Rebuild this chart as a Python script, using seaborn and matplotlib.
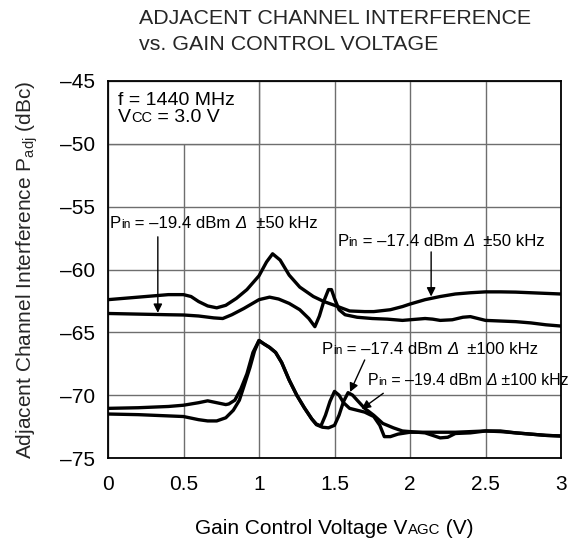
import matplotlib
matplotlib.use("Agg")
import matplotlib.pyplot as plt
import seaborn as sns
import pandas as pd
from matplotlib.patches import Rectangle
from matplotlib.offsetbox import TextArea, HPacker, VPacker, AnnotationBbox

# ---------------- data ----------------
x_u50 = [0, 0.1, 0.2, 0.3, 0.4, 0.5, 0.55, 0.6, 0.66, 0.72, 0.78, 0.85, 0.92, 1.0, 1.05,
         1.09, 1.14, 1.2, 1.27, 1.36, 1.43, 1.5, 1.6, 1.7, 1.76, 1.87, 1.95, 2.0, 2.1, 2.2,
         2.3, 2.4, 2.5, 2.6, 2.7, 2.8, 2.9, 3.0]
y_u50 = [-62.4, -62.3, -62.2, -62.1, -62.0, -62.0, -62.15, -62.55, -62.9, -63.05, -62.85, -62.3,
         -61.6, -60.5, -59.4, -58.75, -59.25, -60.45, -61.4, -62.15, -62.55, -62.85, -63.3,
         -63.35, -63.35, -63.2, -62.95, -62.75, -62.4, -62.15, -61.95, -61.85, -61.78, -61.78,
         -61.8, -61.85, -61.9, -61.95]

x_l50 = [0, 0.2, 0.4, 0.5, 0.6, 0.7, 0.76, 0.82, 0.9, 0.95, 1.0, 1.07, 1.13, 1.2, 1.27, 1.33,
         1.37, 1.4, 1.43, 1.46, 1.48, 1.5, 1.53, 1.57, 1.65, 1.75, 1.85, 1.95, 2.0, 2.05, 2.1,
         2.15, 2.2, 2.28, 2.35, 2.4, 2.45, 2.5, 2.6, 2.7, 2.8, 2.9, 3.0]
y_l50 = [-63.5, -63.55, -63.6, -63.62, -63.7, -63.85, -63.9, -63.6, -63.1, -62.75, -62.4, -62.2,
         -62.35, -62.7, -63.2, -63.9, -64.55, -63.7, -62.5, -61.6, -61.6, -62.3, -63.2, -63.6,
         -63.8, -63.9, -63.95, -64.05, -64.0, -63.95, -63.9, -63.95, -64.05, -64.0, -63.8,
         -63.75, -63.9, -64.05, -64.1, -64.15, -64.25, -64.4, -64.5]

x_174_100 = [0, 0.2, 0.4, 0.5, 0.6, 0.66, 0.72, 0.78, 0.8, 0.84, 0.88, 0.92, 0.96, 1.0, 1.03,
             1.07, 1.11, 1.15, 1.2, 1.25, 1.3, 1.35, 1.38, 1.42, 1.46, 1.5, 1.53, 1.56, 1.59,
             1.62, 1.65, 1.7, 1.76, 1.82, 1.89, 1.95, 2.0, 2.1, 2.2, 2.25, 2.3, 2.4, 2.5, 2.6,
             2.7, 2.8, 2.9, 3.0]
y_174_100 = [-71.05, -71.0, -70.9, -70.8, -70.6, -70.45, -70.6, -70.75, -70.7, -70.4, -69.5,
             -68.3, -66.6, -65.65, -65.9, -66.2, -66.6, -67.4, -68.8, -70.0, -71.0, -71.9,
             -72.35, -72.55, -72.6, -72.4, -71.6, -70.5, -69.8, -70.0, -70.4, -71.05, -71.6,
             -72.25, -72.6, -72.85, -72.9, -73.0, -73.4, -73.35, -73.05, -73.0, -72.85, -72.85,
             -73.0, -73.1, -73.2, -73.25]

x_194_100 = [0, 0.2, 0.4, 0.5, 0.6, 0.66, 0.72, 0.78, 0.83, 0.87, 0.9, 0.94, 0.97, 1.0, 1.03,
             1.07, 1.11, 1.15, 1.2, 1.25, 1.3, 1.35, 1.38, 1.41, 1.44, 1.47, 1.5, 1.53, 1.56,
             1.6, 1.65, 1.7, 1.76, 1.8, 1.83, 1.87, 1.92, 2.0, 2.1, 2.2, 2.3, 2.4, 2.5, 2.6,
             2.7, 2.8, 2.9, 3.0]
y_194_100 = [-71.5, -71.55, -71.65, -71.7, -71.95, -72.05, -72.05, -71.8, -71.2, -70.4, -69.3,
             -67.8, -66.5, -65.65, -65.9, -66.2, -66.6, -67.4, -68.8, -70.0, -71.0, -71.9,
             -72.3, -72.45, -71.6, -70.5, -69.7, -70.0, -70.6, -71.05, -71.2, -71.35, -71.7,
             -72.4, -73.3, -73.3, -73.1, -72.95, -72.95, -72.95, -72.95, -72.9, -72.85, -72.9,
             -73.0, -73.1, -73.2, -73.25]

x_ticks = [0, 0.5, 1, 1.5, 2, 2.5, 3]
x_tick_labels = ["0", "0.5", "1", "1.5", "2", "2.5", "3"]
y_ticks = [-75, -70, -65, -60, -55, -50, -45]
y_tick_labels = ["–75", "–70", "–65", "–60", "–55", "–50", "–45"]

title_lines = ["ADJACENT CHANNEL INTERFERENCE", "vs. GAIN CONTROL VOLTAGE"]
y_label = r"Adjacent Channel Interference P$_{\mathrm{adj}}$ (dBc)"
# rich-text pieces: (text, size factor, style)
x_label_parts = [("Gain Control Voltage V", 1.0, "normal"), ("AGC", 0.72, "normal"),
                 (" (V)", 1.0, "normal")]
cond_parts = [[("f = 1440 MHz", 1.0, "normal")],
              [("V", 1.0, "normal"), ("CC", 0.75, "normal"), (" = 3.0 V", 1.0, "normal")]]
ann_parts = [
    [("P", 1, "normal"), ("in", 0.72, "normal"), (" = –19.4 dBm ", 1, "normal"),
     ("Δ", 1, "italic"), ("  ±50 kHz", 1, "normal")],
    [("P", 1, "normal"), ("in", 0.72, "normal"), (" = –17.4 dBm ", 1, "normal"),
     ("Δ", 1, "italic"), ("  ±50 kHz", 1, "normal")],
    [("P", 1, "normal"), ("in", 0.72, "normal"), (" = –17.4 dBm ", 1, "normal"),
     ("Δ", 1, "italic"), ("  ±100 kHz", 1, "normal")],
    [("P", 1, "normal"), ("in", 0.72, "normal"), (" = –19.4 dBm ", 1, "normal"),
     ("Δ", 1, "italic"), (" ±100 kHz", 1, "normal")],
]

# ---------------- style ----------------
sns.set_style("white")
plt.rcParams["font.family"] = ["Liberation Sans", "DejaVu Sans"]
plt.rcParams["mathtext.fontset"] = "custom"
plt.rcParams["mathtext.rm"] = "Liberation Sans"
plt.rcParams["mathtext.it"] = "Liberation Sans:italic"
plt.rcParams["mathtext.bf"] = "Liberation Sans:bold"

fig = plt.figure(figsize=(5.76, 5.44), dpi=100)
ax = fig.add_axes([108 / 576, 1 - 458 / 544, (561 - 108) / 576, (458 - 81) / 544])


def make_line(parts, size):
    kids = [TextArea(t, textprops=dict(fontsize=size * f, fontstyle=st, color="black"))
            for t, f, st in parts]
    return HPacker(children=kids, align="baseline", pad=0, sep=0)


def place(box, xy, coords="data", align=(0, 0.5)):
    ab = AnnotationBbox(box, xy, xycoords=coords, box_alignment=align, frameon=False,
                        pad=0, annotation_clip=False, zorder=5)
    ax.add_artist(ab)


curves = [(x_u50, y_u50), (x_l50, y_l50), (x_174_100, y_174_100), (x_194_100, y_194_100)]
for xs, ys in curves:
    df = pd.DataFrame({"x": xs, "y": ys})
    sns.lineplot(data=df, x="x", y="y", ax=ax, color="black", lw=2.4,
                 estimator=None, sort=False, zorder=4)

ax.set_xlim(0, 3)
ax.set_ylim(-75, -45)
ax.set_xticks(x_ticks)
ax.set_xticklabels(x_tick_labels)
ax.set_yticks(y_ticks)
ax.set_yticklabels(y_tick_labels)
ax.tick_params(axis="both", length=0, labelsize=15, colors="black")
ax.tick_params(axis="x", pad=12)
ax.tick_params(axis="y", pad=9)
ax.grid(True, color="#6e6e6e", lw=1.0, zorder=0)
ax.set_axisbelow(True)
for s in ax.spines.values():
    s.set_color("black")
    s.set_linewidth(1.3)
    s.set_zorder(6)

ax.set_xlabel("")
ax.set_ylabel(y_label, fontsize=15, labelpad=15)
place(make_line(x_label_parts, 15), (0.5, -0.186), coords="axes fraction", align=(0.5, 0.5))

# condition box (hides grid)
ax.add_patch(Rectangle((0, -50), 1, 5, facecolor="white", edgecolor="#6e6e6e",
                       lw=1.0, zorder=2))
cond_box = VPacker(children=[make_line(p, 14) for p in cond_parts], align="left",
                   pad=0, sep=0)
place(cond_box, (0.066, -47.2))

# title
fig.text(139 / 576, 1 - 18 / 544, title_lines[0], fontsize=15.4, ha="left", va="center")
fig.text(139 / 576, 1 - 45 / 544, title_lines[1], fontsize=15.4, ha="left", va="center")

# annotations
arrow = dict(arrowstyle="-|>", color="black", lw=1.0, mutation_scale=13, shrinkA=0, shrinkB=0)
place(make_line(ann_parts[0], 12.1), (0.012, -56.35))
ax.annotate("", xy=(0.33, -63.45), xytext=(0.33, -57.4), arrowprops=arrow, zorder=5)
place(make_line(ann_parts[1], 12.1), (1.52, -57.8))
ax.annotate("", xy=(2.14, -62.15), xytext=(2.14, -58.6), arrowprops=arrow, zorder=5)
place(make_line(ann_parts[2], 12.1), (1.415, -66.4))
ax.annotate("", xy=(1.603, -69.75), xytext=(1.70, -67.2), arrowprops=arrow, zorder=5)
place(make_line(ann_parts[3], 11.4), (1.72, -68.8))
ax.annotate("", xy=(1.68, -71.1), xytext=(1.823, -69.85), arrowprops=arrow, zorder=5)

fig.savefig("out.png", dpi=100, facecolor="white")
